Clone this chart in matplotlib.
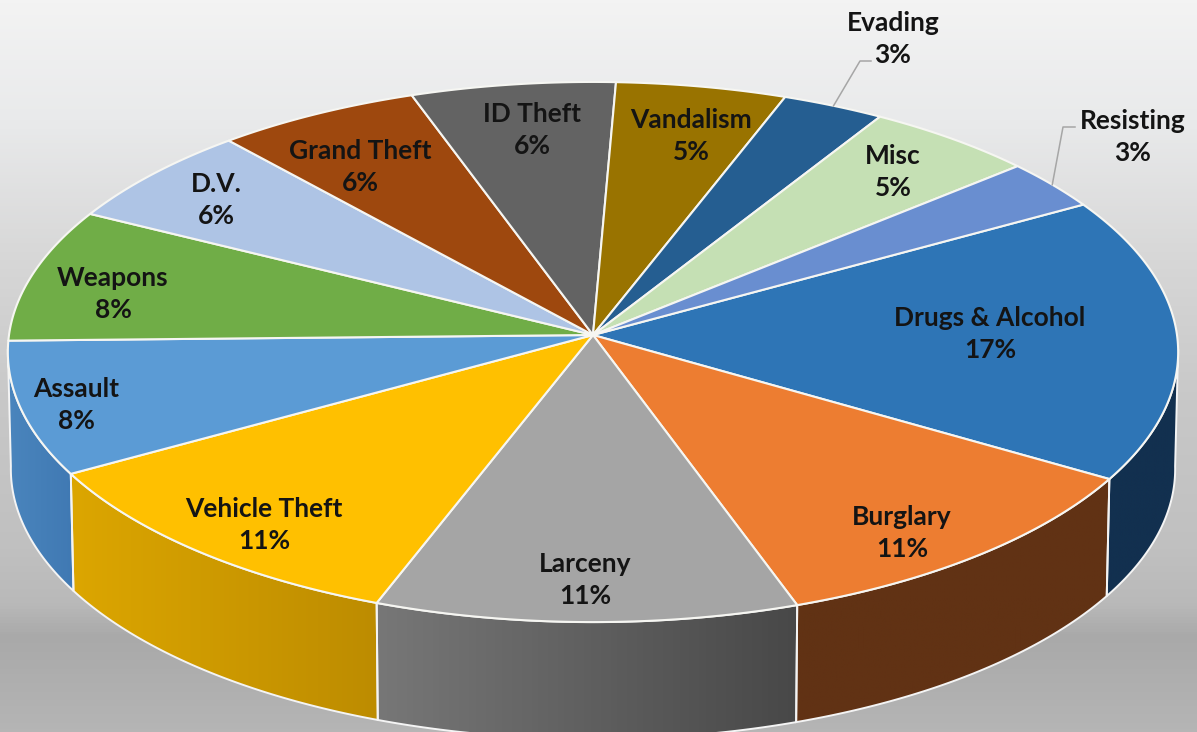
#!/usr/bin/env python3

import numpy as np
import matplotlib; matplotlib.use('Agg')
from matplotlib import pyplot as plt
from matplotlib.colors import LinearSegmentedColormap, to_rgb
from matplotlib.patches import Polygon

############## DATA ################

names = ['Drugs & Alcohol', 'Burglary', 'Larceny', 'Vehicle Theft', 'Assault', 'Weapons',
         'D.V.', 'Grand Theft', 'ID Theft', 'Vandalism', 'Evading', 'Misc', 'Resisting']
shares = [17, 11, 11, 11, 8, 8, 6, 6, 6, 5, 3, 5, 3]

top_colors = ['#2e75b6', '#ed7d31', '#a5a5a5', '#ffc000', '#5b9bd5', '#70ad47',
              '#aec4e5', '#9e480e', '#636363', '#997300', '#255e91', '#c5e0b4', '#698ed0']
wall_left = ['#12304f', '#613214', '#777777', '#dca600', '#4a85bd', '#70ad47',
             '#aec4e5', '#9e480e', '#636363', '#997300', '#255e91', '#c5e0b4', '#698ed0']
wall_right = ['#12304f', '#613214', '#484848', '#bd8c00', '#4079b3', '#70ad47',
              '#aec4e5', '#9e480e', '#636363', '#997300', '#255e91', '#c5e0b4', '#698ed0']

# centre of each two-line label, in pixels
label_x = [990, 902, 585, 264, 76, 113, 216, 360, 532, 691, 893, 893, 1133]
label_y = [334, 533, 580, 525, 405, 294, 200, 167, 130, 136, 39, 172, 137]

bg_pos = [0, 120, 250, 400, 550, 605, 638, 732]
bg_gray = ['#f3f3f3', '#e9eaeb', '#d8d8d8', '#c8c8c8', '#c0c0c0', '#b9b9b9', '#a9a9a9', '#b5b5b5']

############## GEOMETRY ################

W, H = 1197, 732
CX, CY = 593, 335
RX, RY = 584, 269
PERSPECTIVE = 0.063
BOTTOM_RX, BOTTOM_CY = 581, 452
START_ANGLE = 30
VISIBLE_WALL = (-177, -3)


def disc(theta, rx=RX, cy=CY):
    # project points of the tilted disc to the canvas, the far side being smaller
    t = np.radians(theta)
    d = 1 + PERSPECTIVE * np.sin(t)
    return np.column_stack([CX + rx * np.cos(t) / d, cy - RY * np.sin(t) / d])


def arc(t0, t1):
    return np.linspace(t0, t1, max(int(abs(t1 - t0) * 2), 2))


############## PLOT ################

plt.rcParams['font.family'] = ['Lato', 'DejaVu Sans']

fig = plt.figure(figsize=(W / 100, H / 100), dpi=100)
ax = fig.add_axes([0, 0, 1, 1])

# background fades from near white down to mid grey
bg_cmap = LinearSegmentedColormap.from_list('bg', [(p / H, c) for p, c in zip(bg_pos, bg_gray)])
ax.imshow(np.linspace(0, 1, H)[:, None], cmap=bg_cmap, extent=(0, W, H, 0), aspect='auto', zorder=0)

angles = START_ANGLE - np.cumsum([0] + shares) * 3.6

# side walls of the cylinder, only the part facing the viewer
for i in range(len(shares)):
    t0 = min(angles[i], VISIBLE_WALL[1])
    t1 = max(angles[i + 1], VISIBLE_WALL[0])
    t0 = max(t0, VISIBLE_WALL[0] - 1)
    if t0 <= t1:
        continue
    thetas = arc(t0, t1)
    pts = np.vstack([disc(thetas), disc(thetas[::-1], BOTTOM_RX, BOTTOM_CY)])
    wall = Polygon(pts, closed=True, facecolor='none', edgecolor='#f4f4f4', linewidth=1.4, zorder=2)
    ax.add_patch(wall)
    left, right = to_rgb(wall_left[i]), to_rgb(wall_right[i])
    cmap = LinearSegmentedColormap.from_list('wall{}'.format(i), [left, right])
    img = ax.imshow(np.linspace(0, 1, 128)[None, :], cmap=cmap, aspect='auto', zorder=1,
                    extent=(pts[:, 0].min(), pts[:, 0].max(), pts[:, 1].max(), pts[:, 1].min()))
    img.set_clip_path(wall)

# top face
for i in range(len(shares)):
    pts = np.vstack([[CX, CY], disc(arc(angles[i], angles[i + 1]))])
    ax.add_patch(Polygon(pts, closed=True, facecolor=top_colors[i], edgecolor='#f6f6f2',
                         linewidth=1.5, joinstyle='round', zorder=3))

# leader lines for the two labels outside of the pie
mids = (angles[:-1] + angles[1:]) / 2
for name, elbow in (('Evading', ((860, 61), (871, 61))), ('Resisting', ((1063, 127), (1075, 127)))):
    rim = disc(mids[names.index(name)])[0]
    xs, ys = zip(rim, *elbow)
    ax.plot(xs, ys, color='#a6a6a6', linewidth=1.1, zorder=4)

for i, name in enumerate(names):
    ax.text(label_x[i], label_y[i], '{}\n{}%'.format(name, shares[i]), ha='center', va='center',
            fontsize=19, fontweight='bold', color='#141414', linespacing=1.42, zorder=5)

ax.set_xlim(0, W)
ax.set_ylim(H, 0)
ax.axis('off')

plt.savefig('out.png', dpi=100)
plt.close()
